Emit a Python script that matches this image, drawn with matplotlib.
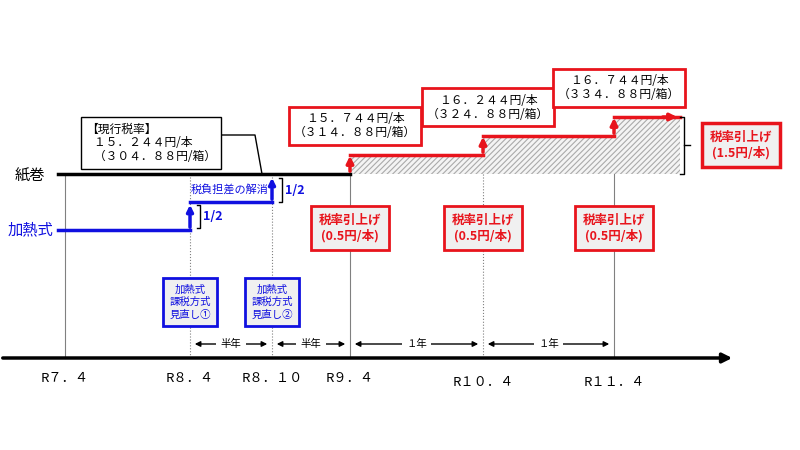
import matplotlib
matplotlib.use('Agg')
import matplotlib.pyplot as plt
from matplotlib.patches import Rectangle

plt.rcParams['font.family'] = ['Noto Sans CJK JP', 'DejaVu Sans']
plt.rcParams['hatch.linewidth'] = 0.8

# dates on the time axis and their pixel positions
dates = ['R7.4', 'R8.4', 'R8.10', 'R9.4', 'R10.4', 'R11.4']
date_x = [65, 190, 272, 350, 483, 614]
# paper cigarette tax levels (yen / stick) after each raise
paper_rates = [15.244, 15.744, 16.244, 16.744]
paper_box = ['15.744円/本\n(314.88円/箱)', '16.244円/本\n(324.88円/箱)', '16.744円/本\n(334.88円/箱)']
intervals = ['半年', '半年', '1年', '1年']

def fw(s):
    # full-width digits as in the original
    return s.translate(str.maketrans('0123456789.()', '０１２３４５６７８９．（）'))

fig = plt.figure(figsize=(8, 4.5), dpi=100)
ax = fig.add_axes([0, 0, 1, 1])
ax.set_xlim(0, 800)
ax.set_ylim(450, 0)
ax.axis('off')

y_base = 174
scale = 19 / 0.5  # px per yen
def ypx(v):
    return y_base - (v - paper_rates[0]) * scale

# timeline
ax.annotate('', xy=(735, 358), xytext=(0, 358),
            arrowprops=dict(arrowstyle='-|>', color='black', lw=2.5, mutation_scale=14))
for i, (d, x) in enumerate(zip(dates, date_x)):
    ax.plot([x, x], [y_base, 358], color='gray', lw=0.8, ls=':' if i in (1, 2, 4) else '-')
    ax.text(x, 378 if i < 4 else 383, fw(d).replace('R', 'R'), ha='center', va='center', fontsize=9.5)

# interval arrows
for (a, b), lab in zip(zip(date_x[1:-1], date_x[2:]), intervals):
    ax.annotate('', xy=(b - 2, 344), xytext=(a + 2, 344),
                arrowprops=dict(arrowstyle='<|-|>', color='black', lw=1, mutation_scale=8))
    ax.text((a + b) / 2, 344, fw(lab), ha='center', va='center', fontsize=7.5,
            bbox=dict(fc='white', ec='none', pad=3))

# paper cigarette line
ax.plot([58, 350], [y_base, y_base], color='black', lw=2.5)
ax.text(30, 176, '紙巻', ha='center', va='center', fontsize=11)
steps_x = date_x[3:] + [680]
for i in range(3):
    y0 = ypx(paper_rates[i]) if i > 0 else y_base
    y1 = ypx(paper_rates[i + 1])
    x0, x1 = steps_x[i], steps_x[i + 1]
    ax.add_patch(Rectangle((x0, y1), x1 - x0, y_base - y1, fc='#f4f4f4', ec='#aaaaaa',
                           hatch='//////', lw=0))
    ax.annotate('', xy=(x0, y1 - 2), xytext=(x0, y0),
                arrowprops=dict(arrowstyle='-|>', color='#e8141c', lw=2.5, mutation_scale=10))
    ax.plot([x0, x1], [y1, y1], color='#e8141c', lw=2.5)
    ax.text(x0 + 5, y1 - 29, fw(paper_box[i]), ha='center', va='center',
            fontsize=8.5, linespacing=1.1,
            bbox=dict(fc='white', ec='#e8141c', lw=2, boxstyle='square,pad=0.45'))
    ax.text(x0, 228, '税率引上げ\n(0.5円/本)', ha='center', va='center', fontsize=9,
            fontweight='bold', color='#e8141c', linespacing=1.2,
            bbox=dict(fc='#f0f0f0', ec='#e8141c', lw=2, boxstyle='square,pad=0.6'))
ax.annotate('', xy=(680, ypx(paper_rates[-1])), xytext=(660, ypx(paper_rates[-1])),
            arrowprops=dict(arrowstyle='-|>', color='#e8141c', lw=2.5, mutation_scale=10))
ax.plot([680, 684, 684, 680], [ypx(paper_rates[-1]), ypx(paper_rates[-1]), y_base, y_base], color='black', lw=1)
ax.plot([684, 690], [145, 145], color='black', lw=1)
ax.text(741, 145, '税率引上げ\n(1.5円/本)', ha='center', va='center', fontsize=9,
        fontweight='bold', color='#e8141c', linespacing=1.2,
        bbox=dict(fc='#f0f0f0', ec='#e8141c', lw=2.5, boxstyle='square,pad=0.6'))

# current rate box
ax.text(86, 143, '【現行税率】\n' + fw('   15.244円/本\n   (304.88円/箱)'), ha='left', va='center',
        fontsize=8.5, linespacing=1.1, bbox=dict(fc='white', ec='black', lw=1, boxstyle='square,pad=0.45'))
ax.plot([222, 255, 262], [135, 135, y_base], color='black', lw=1)

# heated tobacco
blue = '#1010e0'
ax.text(30, 230, '加熱式', ha='center', va='center', fontsize=11, color=blue)
ax.plot([58, 190], [230, 230], color=blue, lw=2.5)
ax.annotate('', xy=(190, 202), xytext=(190, 230),
            arrowprops=dict(arrowstyle='-|>', color=blue, lw=2.5, mutation_scale=9))
ax.plot([190, 272], [202, 202], color=blue, lw=2.5)
ax.annotate('', xy=(272, 175), xytext=(272, 202),
            arrowprops=dict(arrowstyle='-|>', color=blue, lw=2.5, mutation_scale=9))
ax.text(230, 189, '税負担差の解消', ha='center', va='center', fontsize=8, color=blue)
for x, y0, y1 in [(197, 205, 228), (279, 178, 202)]:
    ax.plot([x, x + 3, x + 3, x], [y0, y0, y1, y1], color='black', lw=1)
    ax.text(x + 6, (y0 + y1) / 2, '1/2', ha='left', va='center', fontsize=9, fontweight='bold', color=blue)
for x, lab in [(190, '加熱式\n課税方式\n見直し①'), (272, '加熱式\n課税方式\n見直し②')]:
    ax.text(x, 302, lab, ha='center', va='center', fontsize=7.5, color=blue, linespacing=1.3,
            bbox=dict(fc='#f0f0f0', ec=blue, lw=2, boxstyle='square,pad=0.6'))

fig.savefig('out.png', dpi=100)
